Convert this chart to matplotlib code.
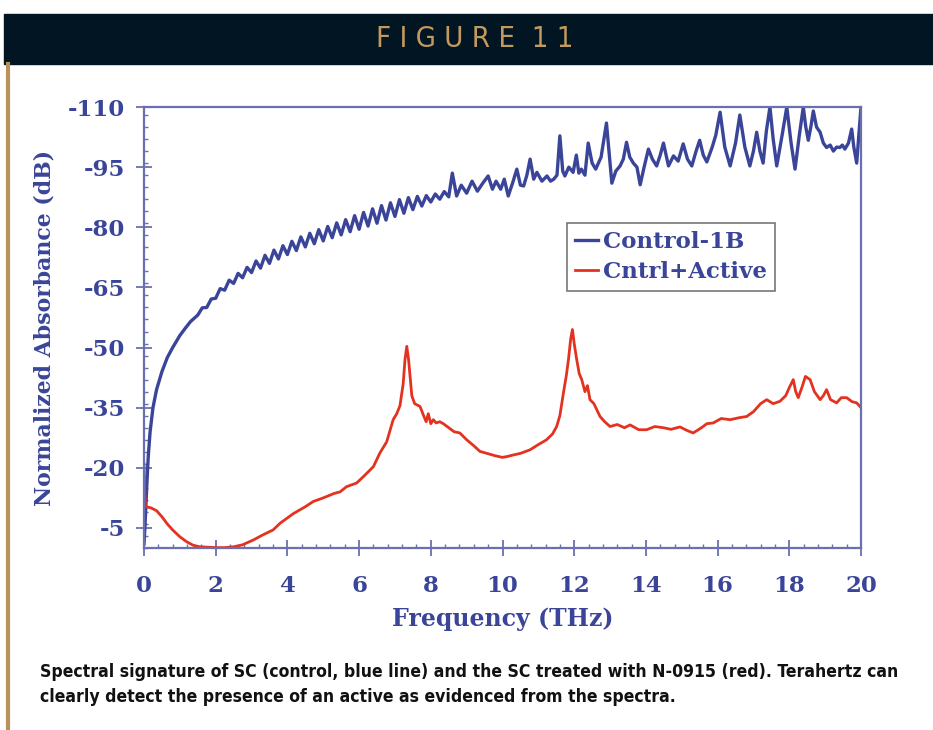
import matplotlib
matplotlib.use("Agg")
from matplotlib import pyplot as plt
from matplotlib.patches import Rectangle
from matplotlib.lines import Line2D

# Control-1B (blue) spectrum
blue_freq = [0.0, 0.03, 0.05, 0.08, 0.12, 0.17, 0.25, 0.35, 0.5, 0.65, 0.8, 1.0, 1.15, 1.3, 1.4,
             1.5, 1.625, 1.75, 1.875, 2.0, 2.125, 2.25, 2.375, 2.5, 2.625, 2.75, 2.875,
             3.0, 3.125, 3.25, 3.375, 3.5, 3.625, 3.75, 3.875, 4.0, 4.125, 4.25, 4.375,
             4.5, 4.625, 4.75, 4.875, 5.0, 5.125, 5.25, 5.375, 5.5, 5.625, 5.75, 5.875,
             6.0, 6.125, 6.25, 6.375, 6.5, 6.625, 6.75, 6.875, 7.0, 7.125, 7.25, 7.375,
             7.5, 7.625, 7.75, 7.875, 8.0, 8.125, 8.25, 8.375, 8.5,
             8.6, 8.72, 8.85, 9.0, 9.15, 9.3, 9.45, 9.6, 9.72, 9.82, 9.95, 10.05, 10.16,
             10.28, 10.4, 10.5, 10.59, 10.68, 10.77, 10.87, 10.96, 11.1, 11.24, 11.34,
             11.43, 11.52, 11.6, 11.68, 11.74, 11.85, 11.97, 12.06, 12.13, 12.2, 12.3,
             12.39, 12.5, 12.6, 12.75, 12.9, 13.05, 13.16, 13.28, 13.37, 13.46, 13.55,
             13.65, 13.75, 13.84, 13.95, 14.07, 14.18, 14.3, 14.4, 14.49, 14.63, 14.77,
             14.9, 15.04, 15.16, 15.28, 15.4, 15.5, 15.6, 15.7, 15.85, 15.95, 16.07,
             16.2, 16.35, 16.5, 16.62, 16.76, 16.9, 17.0, 17.09, 17.18, 17.27, 17.36,
             17.46, 17.55, 17.65, 17.8, 17.93, 18.05, 18.16, 18.28, 18.39, 18.46, 18.53,
             18.6, 18.67, 18.76, 18.86, 18.95, 19.04, 19.14, 19.23, 19.32, 19.41, 19.48,
             19.55, 19.65, 19.74, 19.8, 19.88, 19.94, 20.0]
blue_db = [-1, -6, -10, -16, -23, -29, -35, -39.5, -44, -47.5, -50, -53, -54.8, -56.5, -57.3,
           -58.1, -59.9, -60.0, -62.1, -62.3, -64.7, -64.3, -66.8, -66.0, -68.5, -67.4, -70.0,
           -68.7, -71.6, -69.8, -73.0, -71.0, -74.3, -72.1, -75.4, -73.2, -76.5, -74.2, -77.6,
           -75.1, -78.5, -75.9, -79.4, -76.6, -80.2, -77.4, -81.1, -78.1, -81.9, -78.9, -82.9,
           -79.5, -83.7, -80.3, -84.6, -81.0, -85.4, -81.8, -86.1, -82.7, -86.9, -83.5, -87.4,
           -84.4, -87.7, -85.3, -87.9, -86.3, -88.3, -87.0, -88.9, -87.6,
           -93.5, -87.8, -90.5, -88.5, -91.5, -89, -91, -92.8, -89.5, -91.5, -89.5, -92, -87.8,
           -91, -94.5, -90.5, -90.3, -93, -97, -92, -93.7, -91.5, -92.8, -91.5,
           -92, -93, -102.8, -94, -92.8, -95, -93.7, -98, -93.5, -94.5, -93,
           -101, -96, -94.5, -97.5, -106, -91, -94, -95.3, -97, -101.2, -97.5,
           -96, -95, -90.6, -95, -99.5, -97, -95.3, -98, -101, -95.3, -97.8,
           -96.5, -100.8, -97, -95.3, -99, -101.7, -98, -96.3, -100, -103, -108.7,
           -100, -95.3, -101, -108, -100, -95.3, -99, -103.7, -99, -96, -104,
           -110, -102, -95.3, -103, -110, -101, -94.5, -103, -110, -105, -101.7,
           -105, -109, -105, -103.7, -101, -99.9, -100.5, -99, -100, -99.9, -100.5,
           -99.5, -101, -104.5, -100, -96, -103, -110]

# Cntrl+Active (red) spectrum
red_freq = [0.0, 0.02, 0.04, 0.1, 0.2, 0.35, 0.5, 0.65, 0.8, 1.0, 1.2, 1.37, 1.55, 1.75,
            2.0, 2.25, 2.5, 2.75, 3.05, 3.3, 3.6, 3.8, 4.17, 4.5, 4.72, 5.0, 5.3, 5.47,
            5.65, 5.93, 6.12, 6.4, 6.58, 6.77, 6.95, 7.05, 7.14, 7.23, 7.28, 7.33, 7.38,
            7.42, 7.47, 7.55, 7.7, 7.8, 7.87, 7.93, 8.0, 8.07, 8.15, 8.25, 8.35, 8.5,
            8.65, 8.81, 9.0, 9.2, 9.37, 9.6, 9.8, 10.0, 10.12, 10.3, 10.5, 10.77, 11.0,
            11.23, 11.4, 11.51, 11.6, 11.7, 11.78, 11.84, 11.9, 11.95, 12.0, 12.07, 12.14,
            12.21, 12.3, 12.37, 12.44, 12.55, 12.72, 12.85, 13.0, 13.2, 13.4, 13.56, 13.8,
            14.02, 14.25, 14.49, 14.7, 14.95, 15.15, 15.32, 15.55, 15.7, 15.88, 16.1,
            16.35, 16.6, 16.81, 17.0, 17.2, 17.37, 17.55, 17.74, 17.9, 18.0, 18.11, 18.18,
            18.25, 18.35, 18.45, 18.58, 18.7, 18.86, 18.95, 19.04, 19.15, 19.32, 19.45,
            19.6, 19.75, 19.88, 20.0]
red_db = [-21, -14, -10.5, -10.2, -10, -9.3, -7.8, -6, -4.5, -2.8, -1.5, -0.7, -0.3, -0.2,
          -0.1, -0.1, -0.3, -0.8, -2, -3.2, -4.5, -6.2, -8.6, -10.3, -11.6, -12.5, -13.6, -14,
          -15.3, -16.2, -17.8, -20.3, -23.7, -26.5, -32, -33.5, -35.5, -41, -47, -50.3, -47,
          -43, -38, -36, -35.3, -33, -31.5, -33.5, -31, -32, -31.2, -31.5, -31, -30,
          -29, -28.7, -27, -25.5, -24.1, -23.5, -23, -22.6, -22.8, -23.2, -23.6, -24.5, -25.8,
          -27, -28.5, -30.3, -33, -38.7, -43, -47, -52, -54.5, -51, -47, -43.5,
          -42, -39, -40.5, -37, -36, -32.8, -31.5, -30.3, -30.8, -30, -30.7, -29.5,
          -29.5, -30.3, -30, -29.6, -30.2, -29.3, -28.7, -30, -31, -31.2, -32.3,
          -32, -32.5, -32.8, -34, -36, -37, -36, -36.6, -38, -40, -42, -39,
          -37.5, -40, -42.8, -42, -39, -37, -38, -39.5, -37, -36.2, -37.5,
          -37.5, -36.5, -36.2, -35]

x_ticks = [0, 2, 4, 6, 8, 10, 12, 14, 16, 18, 20]
y_ticks = [-110, -95, -80, -65, -50, -35, -20, -5]
y_labels = ['-110', '-95', '-80', '-65', '-50', '-35', '-20', '-5']

BLUE = '#3a4599'
RED = '#e3321f'
AXIS = '#6a6fb0'
SERIF = 'DejaVu Serif'
NARROW = 'DejaVu Sans'


def main():
    fig = plt.figure(figsize=(9.33, 7.30), dpi=100)
    fig.patch.set_facecolor('white')

    # header bar
    fig.patches.append(Rectangle((4 / 933, 1 - 64 / 730), 1, 50 / 730,
                                 transform=fig.transFigure, color='#021522', zorder=0))
    fig.text(475 / 933, 1 - 39 / 730, 'F I G U R E  1 1', color='#c29a5e',
             fontsize=21, family=NARROW, fontstretch='condensed',
             ha='center', va='center')
    # tan rule on the left
    fig.lines.append(Line2D([8 / 933, 8 / 933], [0, 1 - 64 / 730], transform=fig.transFigure,
                            color='#b8925a', lw=3))

    ax = fig.add_axes([144 / 933, 1 - 548 / 730, 717 / 933, 441 / 730])
    ax.plot(blue_freq, blue_db, color=BLUE, lw=2.4, label='Control-1B')
    ax.plot(red_freq, red_db, color=RED, lw=2.0, label='Cntrl+Active')

    ax.set_xlim(0, 20)
    ax.set_ylim(0, -110)
    ax.set_xticks(x_ticks)
    ax.set_xticklabels([str(t) for t in x_ticks])
    ax.set_yticks(y_ticks)
    ax.set_yticklabels(y_labels)
    ax.set_xticks([t * 0.4 for t in range(51)], minor=True)
    ax.set_yticks([-t * 3 for t in range(37)], minor=True)

    for s in ax.spines.values():
        s.set_color(AXIS)
        s.set_linewidth(1.6)
    ax.tick_params(which='major', direction='inout', length=11, width=1.3, color=AXIS,
                   labelcolor=BLUE, labelsize=16.5)
    ax.tick_params(which='minor', direction='in', length=3, width=1, color=AXIS)
    ax.tick_params(axis='x', which='major', pad=14)
    ax.tick_params(axis='y', which='major', pad=8)
    for lab in ax.get_xticklabels() + ax.get_yticklabels():
        lab.set_fontfamily(SERIF)
        lab.set_fontweight('bold')

    ax.set_xlabel('Frequency (THz)', color=BLUE, fontsize=17, fontweight='bold',
                  family=SERIF, labelpad=7)
    ax.set_ylabel('Normalized Absorbance (dB)', color=BLUE, fontsize=15.8, fontweight='bold',
                  family=SERIF, labelpad=9)

    leg = ax.legend(loc='upper left', bbox_to_anchor=(0.59, 0.737), fancybox=False,
                    edgecolor='#777777', framealpha=1, handlelength=1.0, handletextpad=0.2,
                    borderpad=0.35, labelspacing=0.35, borderaxespad=0,
                    prop={'family': SERIF, 'weight': 'bold', 'size': 16.5})
    for t in leg.get_texts():
        t.set_color(BLUE)
    leg.get_frame().set_linewidth(1.2)

    fig.text(40 / 933, 1 - 672 / 730,
             'Spectral signature of SC (control, blue line) and the SC treated with N-0915 (red). Terahertz can',
             fontsize=12.6, fontweight='bold', family=NARROW, fontstretch='condensed',
             color='#111111', ha='left', va='center')
    fig.text(40 / 933, 1 - 697 / 730,
             'clearly detect the presence of an active as evidenced from the spectra.',
             fontsize=12.6, fontweight='bold', family=NARROW, fontstretch='condensed',
             color='#111111', ha='left', va='center')

    fig.savefig('out.png', dpi=100)


if __name__ == '__main__':
    main()
